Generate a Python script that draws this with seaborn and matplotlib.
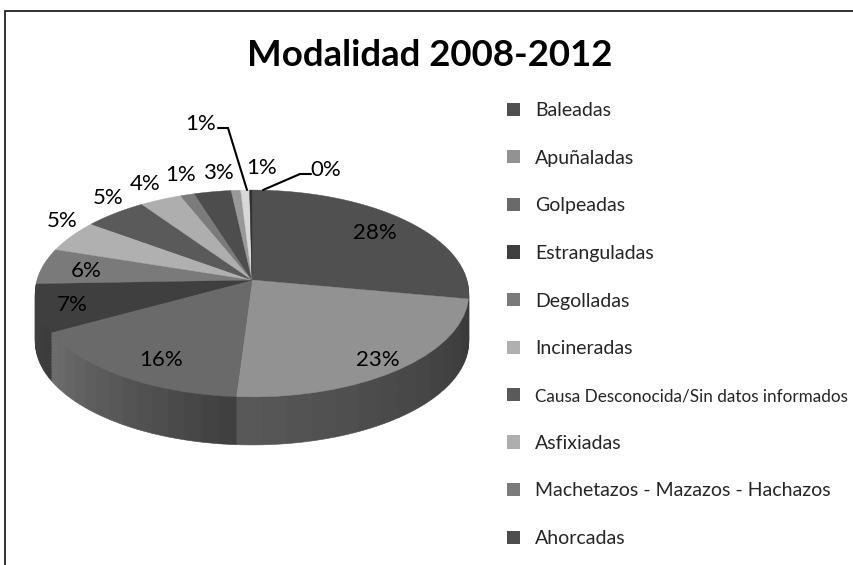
import numpy as np
import matplotlib
matplotlib.use("Agg")
import matplotlib.pyplot as plt
from matplotlib.patches import Patch
from matplotlib.path import Path
from matplotlib.transforms import Transform, Affine2D
import seaborn as sns

title = "Modalidad 2008-2012"
categories = ["Baleadas", "Apuñaladas", "Golpeadas", "Estranguladas", "Degolladas",
              "Incineradas", "Causa Desconocida/Sin datos informados", "Asfixiadas",
              "Machetazos - Mazazos - Hachazos", "Ahorcadas", "Otras", "Quemadas", "Otros"]
values = [27.9, 23.1, 15.95, 7.45, 5.6, 5.05, 5.3, 3.55, 1.2, 3.1, 0.8, 0.75, 0.2]
top_colors = ["#505050", "#929292", "#6a6a6a", "#3f3f3f", "#7a7a7a", "#b0b0b0", "#5a5a5a",
              "#aeaeae", "#7b7b7b", "#4d4d4d", "#999999", "#d8d8d8", "#333333"]
side_start = ["#3a3a3a", "#3a3a3a", "#404040", "#3c3c3c", "#444444", "#555555", "#444444",
              "#555555", "#444444", "#3a3a3a", "#555555", "#666666", "#333333"]
side_end = ["#3a3a3a", "#585858", "#6c6c6c", "#444444", "#444444", "#555555", "#444444",
            "#555555", "#444444", "#3a3a3a", "#555555", "#666666", "#333333"]
label_pos = [(375, 233), (378, 360), (161, 360), (72, 305), (86, 271), (62, 221), (108, 198),
             (145, 184), (181, 175), (218, 173), (201, 124), (262, 168), (326, 170)]
legend_count = 10

sns.set_theme(style="white")
plt.rcParams["font.family"] = ["Lato", "DejaVu Sans"]

W, H = 854, 565
CX, CY, SX, SY, B, DEPTH = 252.0, 280.0, 215.0, 101.7, 0.1304, 48


class Persp(Transform):
    input_dims = output_dims = 2
    has_inverse = False
    is_affine = False

    def transform_non_affine(self, v):
        v = np.asarray(v, float)
        d = 1 + B * v[:, 1]
        return np.column_stack([CX + SX * v[:, 0] / d, CY - SY * v[:, 1] / d])

    def transform_path_non_affine(self, path):
        pts = []
        ts = np.linspace(0, 1, 10)
        for curve, code in path.iter_bezier():
            if code == Path.MOVETO:
                continue
            pts.append(curve(ts))
        return Path(self.transform_non_affine(np.vstack(pts)), closed=False)


fig = plt.figure(figsize=(W / 100, H / 100), dpi=100, facecolor="white")
ax = fig.add_axes([0, 0, 1, 1])
persp = Persp()


def shade(hex_a, hex_b, t):
    a, b = np.array(matplotlib.colors.to_rgb(hex_a)), np.array(matplotlib.colors.to_rgb(hex_b))
    return tuple(a + (b - a) * t)


N = 14
side_vals, side_cols = [], []
for v, a, b in zip(values, side_start, side_end):
    for k in range(N):
        side_vals.append(v / N)
        side_cols.append(shade(a, b, k / (N - 1)))

for off in np.arange(DEPTH, 0, -1.5):
    wedges, _ = ax.pie(side_vals, colors=side_cols, startangle=90, counterclock=False, radius=1)
    tr = persp + Affine2D().translate(0, off) + ax.transData
    for w, c in zip(wedges, side_cols):
        w.set_transform(tr)
        w.set_edgecolor(c)
        w.set_linewidth(0.4)

wedges, _ = ax.pie(values, colors=top_colors, startangle=90, counterclock=False, radius=1)
tr = persp + ax.transData
for w, c in zip(wedges, top_colors):
    w.set_transform(tr)
    w.set_edgecolor(c)
    w.set_linewidth(0.3)

ax.set_aspect("auto")
ax.set_xlim(0, W)
ax.set_ylim(H, 0)
ax.set_axis_off()

for v, (x, y) in zip(values, label_pos):
    ax.text(x, y, f"{round(v)}%", ha="center", va="center", fontsize=16, color="black")

ax.plot([218, 228, 247], [128, 128, 190], color="black", lw=1.5, solid_joinstyle="miter")
ax.plot([263, 300, 311], [190, 174, 174], color="black", lw=1.5, solid_joinstyle="miter")

ax.text(430, 55, title, ha="center", va="center", fontsize=26.4, fontweight="bold", color="black")

fs = 14
handles = [Patch(facecolor=c, edgecolor="none") for c in top_colors[:legend_count]]
leg = ax.legend(handles, categories[:legend_count], loc="upper left",
                bbox_to_anchor=(507 / W, 1 - 102 / H), frameon=False, fontsize=fs,
                handlelength=13 / (fs * 100 / 72), handleheight=13 / (fs * 100 / 72),
                handletextpad=0.77, labelspacing=1.575, borderpad=0, borderaxespad=0)
leg.get_texts()[6].set_fontsize(12.3)

ax.plot([5.5, 5.5, W], [H, 11, 11], color="#111111", lw=1.2, solid_capstyle="butt",
        solid_joinstyle="miter", clip_on=False)

fig.savefig("out.png", dpi=100)
